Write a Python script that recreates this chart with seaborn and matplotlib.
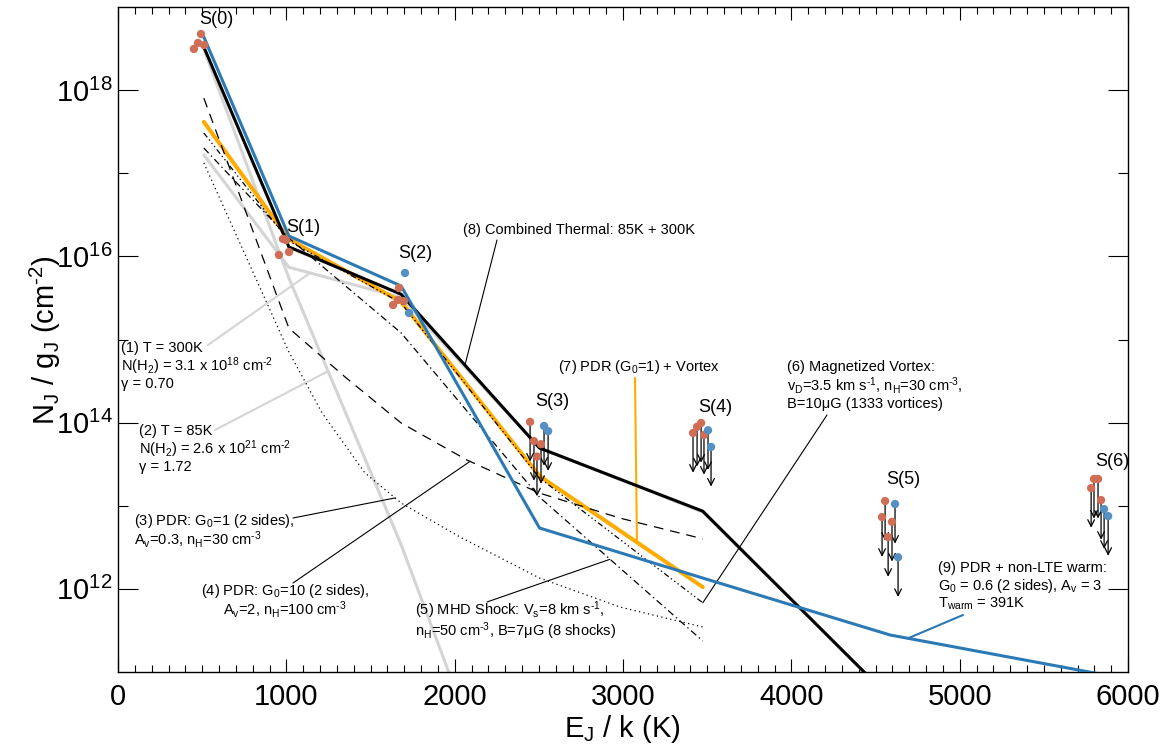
import numpy as np
import matplotlib
matplotlib.use("Agg")
import matplotlib.pyplot as plt
from matplotlib.ticker import MultipleLocator, FixedLocator, FuncFormatter, NullFormatter
import seaborn as sns

# ---------------------------------------------------------------- data
# Upper-level energies of the H2 pure-rotational S(J) lines (K)
levels = ["S(0)", "S(1)", "S(2)", "S(3)", "S(4)", "S(5)", "S(6)"]
energy = [510, 1015, 1682, 2504, 3474, 4586, 5829]

# Observed N_J/g_J (cm^-2), first group (several apertures per line)
obs_a_E = [493, 475, 451, 511,
           980, 998, 956, 1016,
           1669, 1634, 1663, 1699,
           2448, 2471, 2513, 2489,
           3416, 3440, 3464, 3481,
           4557, 4539, 4598, 4575,
           5781, 5798, 5822, 5840]
obs_a_N = [4.73e18, 3.69e18, 3.13e18, 3.49e18,
           1.62e16, 1.57e16, 1.04e16, 1.13e16,
           4.17e15, 2.60e15, 2.99e15, 2.90e15,
           1.02e14, 6.0e13, 5.5e13, 3.9e13,
           7.5e13, 8.9e13, 9.9e13, 7.1e13,
           1.14e13, 7.3e12, 6.4e12, 4.2e12,
           1.63e13, 2.10e13, 2.10e13, 1.17e13]
obs_a_limit = [False] * 12 + [True] * 16

# Observed N_J/g_J (cm^-2), second group
obs_b_E = [1705, 1729, 2531, 2555, 3505, 3523, 4616, 4634, 5858, 5882]
obs_b_N = [6.31e15, 2.08e15, 9.1e13, 7.9e13, 8.1e13, 5.1e13,
           1.05e13, 2.4e12, 9.1e12, 7.5e12]
obs_b_limit = [False, False] + [True] * 8

# Model excitation diagrams
thermal300_E = energy
thermal300_N = [1.66e17, 7.4e15, 3.2e15, 4.95e13, 8.4e12, 4.9e10, 3.3e9]

thermal85_E = [510, 1015, 1682, 2504]
thermal85_N = [3.1e18, 5.5e15, 3.4e12, 1.2e8]

combined_E = energy
combined_N = [3.3e18, 1.30e16, 3.5e15, 4.95e13, 8.6e12, 4.9e10, 3.3e9]

pdr1_E = [510, 1015, 1212, 1467, 1682, 2032, 2504, 2982, 3474]
pdr1_N = [1.33e17, 7.1e14, 1.31e14, 2.48e13, 1.08e13, 4.2e12, 1.35e12, 6.05e11, 3.48e11]

pdr10_E = [510, 1015, 1349, 1682, 2073, 2504, 2982, 3474]
pdr10_N = [8.0e17, 1.37e15, 3.54e14, 9.9e13, 3.55e13, 1.42e13, 7.1e12, 4.0e12]

shock_E = energy[:5]
shock_N = [2.01e17, 1.66e16, 1.20e15, 1.27e13, 2.36e11]

vortex_E = energy[:5]
vortex_N = [3.05e17, 1.53e16, 2.75e15, 2.16e13, 6.8e11]

pdr_vortex_E = energy[:5]
pdr_vortex_N = [4.14e17, 1.62e16, 2.83e15, 2.28e13, 1.05e12]

pdr_warm_E = energy
pdr_warm_N = [4.35e18, 1.76e16, 4.4e15, 5.4e12, 1.35e12, 2.79e11, 9.5e10]

# ---------------------------------------------------------------- style
sns.set_style("ticks")
plt.rcParams["font.family"] = ["Liberation Sans", "DejaVu Sans"]
plt.rcParams["mathtext.fontset"] = "custom"
plt.rcParams["mathtext.rm"] = "Liberation Sans"
plt.rcParams["mathtext.it"] = "Liberation Sans:italic"
plt.rcParams["mathtext.bf"] = "Liberation Sans:bold"
plt.rcParams["mathtext.sf"] = "Liberation Sans"
plt.rcParams["lines.scale_dashes"] = False
for key in ("text.color", "axes.labelcolor", "xtick.color", "ytick.color",
            "xtick.labelcolor", "ytick.labelcolor", "axes.edgecolor"):
    plt.rcParams[key] = "black"

C_RED = "#cf6e56"
C_BLUEPT = "#5590c4"
C_BLUE = "#2b79b5"
C_ORANGE = "#ffab00"
C_GRAY = "#d4d4d4"
HY = "\u2010"  # short hyphen used in exponents

FIG_W, FIG_H = 1165, 747
AX_L, AX_R, AX_T, AX_B = 118, 1128, 7, 672

fig = plt.figure(figsize=(FIG_W / 100, FIG_H / 100), dpi=100)
ax = fig.add_axes([AX_L / FIG_W, 1 - AX_B / FIG_H,
                   (AX_R - AX_L) / FIG_W, (AX_B - AX_T) / FIG_H])
ax.set_yscale("log")
ax.set_xlim(0, 6000)
ax.set_ylim(1e11, 1e19)


def at(px, py):
    """Figure pixel position -> axes fraction."""
    return ((px - AX_L) / (AX_R - AX_L), (AX_B - py) / (AX_B - AX_T))


def on_curve(e, xs, ys):
    """Point of a model curve at energy e (log interpolation)."""
    return (e, 10 ** np.interp(e, xs, np.log10(ys)))


def draw_model(xs, ys, color, lw, dashes=None, z=2):
    sns.lineplot(x=xs, y=ys, ax=ax, color=color, linewidth=lw,
                 estimator=None, sort=False, legend=False, zorder=z)
    line = ax.lines[-1]
    line.set_solid_joinstyle("miter")
    if dashes is not None:
        line.set_dashes(dashes)


# model curves
draw_model(thermal85_E, thermal85_N, C_GRAY, 2.2, z=1)
draw_model(thermal300_E, thermal300_N, C_GRAY, 2.2, z=1)
draw_model(pdr_vortex_E, pdr_vortex_N, C_ORANGE, 2.9, z=2)
draw_model(pdr1_E, pdr1_N, "black", 0.9, dashes=[0.9, 2.4], z=3)
draw_model(pdr10_E, pdr10_N, "black", 0.9, dashes=[7, 5], z=3)
draw_model(shock_E, shock_N, "black", 0.9, dashes=[5, 2.5, 1, 2.5], z=3)
draw_model(vortex_E, vortex_N, "black", 0.9, dashes=[4, 2, 1, 2, 1, 2, 1, 2], z=3)
draw_model(combined_E, combined_N, "black", 2.2, z=4)
draw_model(pdr_warm_E, pdr_warm_N, C_BLUE, 2.2, z=4)

# upper-limit arrows (factor 3 below the measurement)
for xs, ys, lim in ((obs_a_E, obs_a_N, obs_a_limit), (obs_b_E, obs_b_N, obs_b_limit)):
    for e, n, is_lim in zip(xs, ys, lim):
        if is_lim:
            ax.annotate("", xy=(e, n / 3.0), xytext=(e, n),
                        arrowprops=dict(arrowstyle="->", color="black", lw=0.9,
                                        shrinkA=0, shrinkB=0, mutation_scale=12),
                        zorder=5)

# measurements
sns.scatterplot(x=obs_a_E, y=obs_a_N, ax=ax, color=C_RED, s=36,
                edgecolor="none", linewidth=0, legend=False, zorder=6)
sns.scatterplot(x=obs_b_E, y=obs_b_N, ax=ax, color=C_BLUEPT, s=36,
                edgecolor="none", linewidth=0, legend=False, zorder=6)

# line labels
label_pos = [(216, 19), (303, 228), (415, 254), (552, 402), (715, 408), (903, 480), (1112, 462)]
for name, (px, py) in zip(levels, label_pos):
    ax.text(*at(px, py), name, transform=ax.transAxes, ha="center", va="center",
            fontsize=13)

# model annotations
FS = 10.5


def lines_at(px, py_list, texts, ha="left"):
    for py, t in zip(py_list, texts):
        ax.text(*at(px, py), t, transform=ax.transAxes, ha=ha, va="center",
                fontsize=FS, zorder=7)


def leader(start_px, end_data, color="black", lw=0.8):
    ax.annotate("", xy=end_data, xycoords="data",
                xytext=at(*start_px), textcoords="axes fraction",
                arrowprops=dict(arrowstyle="-", color=color, lw=lw,
                                shrinkA=0, shrinkB=0), zorder=2.5)


lines_at(121, [348, 366, 384],
         ["(1) T = 300K",
          r"N(H$_2$) = 3.1 x 10$^{18}$ cm$^{%s2}$" % HY,
          "γ = 0.70"])
leader((208, 345), on_curve(1141, thermal300_E, thermal300_N), C_GRAY, 1.5)

lines_at(139, [431, 449, 467],
         ["(2) T = 85K",
          r"N(H$_2$) = 2.6 x 10$^{21}$ cm$^{%s2}$" % HY,
          "γ = 1.72"])
leader((215, 430), on_curve(1248, thermal85_E, thermal85_N), C_GRAY, 1.5)

lines_at(134, [521, 540],
         [r"(3) PDR: G$_0$=1 (2 sides),",
          r"A$_\mathrm{v}$=0.3, n$_\mathrm{H}$=30 cm$^{%s3}$" % HY])
leader((293, 518), on_curve(1646, pdr1_E, pdr1_N))

lines_at(285, [591, 610],
         [r"(4) PDR: G$_0$=10 (2 sides),",
          r"A$_\mathrm{v}$=2, n$_\mathrm{H}$=100 cm$^{%s3}$" % HY], ha="center")
leader((293, 583), on_curve(2091, pdr10_E, pdr10_N))

lines_at(415, [610, 631],
         [r"(5) MHD Shock: V$_\mathrm{s}$=8 km s$^{%s1}$," % HY,
          r"n$_\mathrm{H}$=50 cm$^{%s3}$, B=7μG (8 shocks)" % HY])
leader((487, 602), on_curve(2923, shock_E, shock_N))

lines_at(787, [367, 386, 404],
         ["(6) Magnetized Vortex:",
          r"v$_\mathrm{D}$=3.5 km s$^{%s1}$, n$_\mathrm{H}$=30 cm$^{%s3}$," % (HY, HY),
          "B=10μG (1333 vortices)"])
leader((827, 415), on_curve(3474, vortex_E, vortex_N))

lines_at(558, [367], [r"(7) PDR (G$_0$=1) + Vortex"])
leader((635, 378), on_curve(3083, pdr_vortex_E, pdr_vortex_N), C_ORANGE, 1.5)

lines_at(463, [230], ["(8) Combined Thermal: 85K + 300K"])
leader((497, 240), on_curve(2061, combined_E, combined_N))

lines_at(938, [568, 586, 604],
         ["(9) PDR + non-LTE warm:",
          r"G$_0$ = 0.6 (2 sides), A$_\mathrm{v}$ = 3",
          r"T$_\mathrm{warm}$ = 391K"])
leader((963, 615), on_curve(4693, pdr_warm_E, pdr_warm_N), C_BLUE, 1.5)

# ---------------------------------------------------------------- axes
ax.xaxis.set_major_locator(MultipleLocator(1000))
ax.xaxis.set_minor_locator(MultipleLocator(100))
ax.yaxis.set_major_locator(FixedLocator([1e12, 1e14, 1e16, 1e18]))
ax.yaxis.set_minor_locator(FixedLocator([1e13, 1e15, 1e17]))
ax.yaxis.set_major_formatter(FuncFormatter(lambda v, p: r"$10^{%d}$" % round(np.log10(v))))
ax.yaxis.set_minor_formatter(NullFormatter())

ax.tick_params(which="both", direction="in", top=True, right=True, width=0.8,
               color="black", labelcolor="black", labelsize=21)
ax.tick_params(axis="x", which="major", length=9.5, pad=8)
ax.tick_params(axis="x", which="minor", length=4.7)
ax.tick_params(axis="y", which="major", length=14.4, pad=4)
ax.tick_params(axis="y", which="minor", length=7.2)
for sp in ax.spines.values():
    sp.set_linewidth(1.0)
    sp.set_color("black")

fig.text(45 / FIG_W, 1 - 340 / FIG_H, r"N$_\mathrm{J}$ / g$_\mathrm{J}$ (cm$^{%s2}$)" % HY,
         rotation=90, ha="center", va="center", fontsize=21)
fig.text(622 / FIG_W, 1 - 729 / FIG_H, r"E$_\mathrm{J}$ / k (K)",
         ha="center", va="center", fontsize=21)

fig.savefig("out.png", dpi=100)
